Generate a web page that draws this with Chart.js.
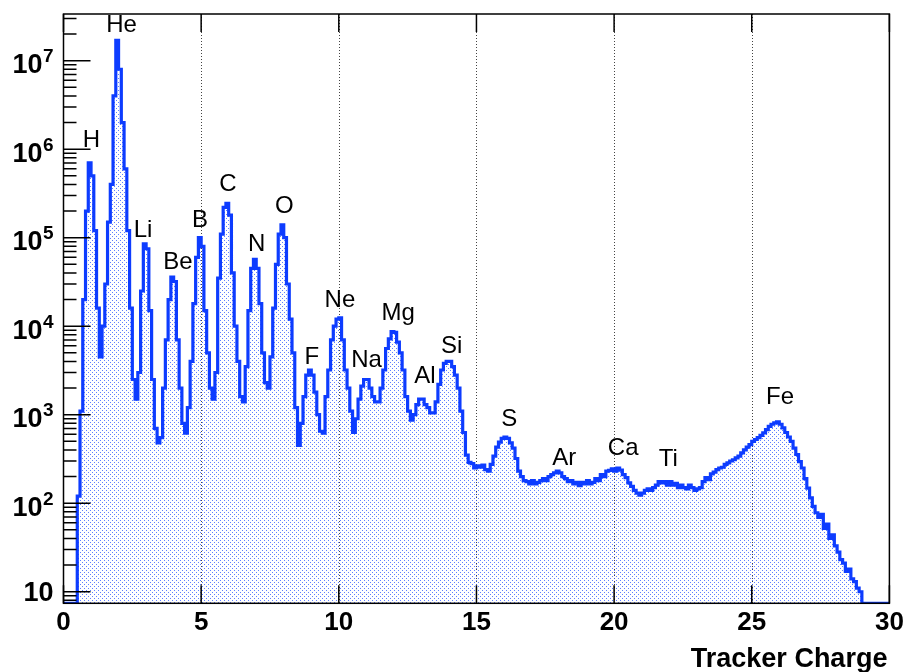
<!DOCTYPE html>
<html>
<head>
<meta charset="utf-8">
<script src="https://cdn.jsdelivr.net/npm/chart.js@4.4.1/dist/chart.umd.min.js"></script>
<style>
  html, body { margin: 0; padding: 0; background: #ffffff; }
  #wrap { width: 904px; height: 672px; }
</style>
</head>
<body>
<div id="wrap"><canvas id="c" width="904" height="672"></canvas></div>
<script>
// Histogram binning and axis ranges
const BIN_WIDTH = 0.1;
const X_RANGE = [0, 30];
const Y_RANGE = [7.4, 3.37e7];
const xTickValues = [0, 5, 10, 15, 20, 25, 30];
const gridValues = [5, 10, 15, 20, 25];
const yDecadeExponents = [1, 2, 3, 4, 5, 6, 7];
const axisTitle = 'Tracker Charge';

// Event counts per 0.1-wide charge bin, charge 0 - 10
const countsLow = [
  0, 0, 0, 0, 0, 120, 1100, 20000, 200000, 700000,
  500000, 120000, 16000, 4500, 10000, 30000, 150000, 400000, 4000000, 17000000,
  8000000, 2000000, 600000, 120000, 16000, 2500, 1500, 3000, 25000, 85000,
  75000, 15000, 2500, 700, 480, 550, 2000, 7000, 20000, 36000,
  32000, 7000, 2000, 800, 620, 1200, 4000, 18000, 60000, 100000,
  80000, 15000, 5000, 2000, 1500, 3000, 35000, 110000, 220000, 245000,
  180000, 40000, 10000, 4000, 1600, 1400, 3500, 15000, 45000, 57000,
  45000, 18000, 5000, 2300, 2000, 4500, 16000, 50000, 110000, 140000,
  100000, 30000, 12000, 5000, 1200, 450, 800, 1600, 2800, 3200,
  2800, 1800, 1000, 650, 620, 1600, 3200, 7000, 10000, 12000
];

// Event counts per bin, charge 10 - 20
const countsMid = [
  12400, 7000, 3200, 2000, 1100, 630, 900, 1500, 2100, 2500,
  2500, 2000, 1600, 1400, 1400, 2000, 3200, 5600, 7200, 8700,
  8500, 6600, 5000, 3200, 1600, 1100, 870, 1000, 1300, 1500,
  1500, 1300, 1200, 1050, 1050, 1400, 2200, 3200, 3800, 4000,
  4000, 3500, 2800, 2000, 1100, 630, 350, 290, 280, 250,
  265, 255, 270, 240, 230, 275, 340, 430, 490, 540,
  560, 540, 480, 420, 320, 230, 200, 180, 175, 165,
  180, 165, 172, 180, 190, 180, 200, 210, 220, 230,
  220, 200, 190, 175, 180, 165, 172, 158, 172, 165,
  180, 165, 172, 190, 180, 210, 200, 230, 235, 245
];

// Event counts per bin, charge 20 - 30
const countsHigh = [
  230, 250, 237, 210, 195, 170, 155, 140, 130, 123,
  130, 140, 145, 140, 150, 160, 175, 170, 175, 160,
  175, 160, 168, 150, 160, 150, 145, 160, 150, 140,
  145, 150, 175, 195, 185, 215, 225, 240, 250, 255,
  275, 285, 300, 310, 325, 340, 370, 400, 430, 460,
  500, 525, 550, 585, 625, 680, 740, 780, 810, 830,
  780, 710, 630, 560, 500, 420, 355, 295, 250, 190,
  148, 115, 92, 78, 69, 75, 52, 58, 40, 44,
  33, 28, 23, 21, 17, 18, 14, 13, 11, 10,
  0, 0, 0, 0, 0, 0, 0, 0, 0, 0
];

// Element annotations: name, charge and count level of the label centre
const elementNames = ['H', 'He', 'Li', 'Be', 'B', 'C', 'N', 'O', 'F', 'Ne',
                      'Na', 'Mg', 'Al', 'Si', 'S', 'Ar', 'Ca', 'Ti', 'Fe'];
const labelCharge = [1.01, 2.11, 2.89, 4.16, 4.96, 5.97, 7.02, 8.02, 9.02, 10.04,
                     11.01, 12.16, 13.13, 14.1, 16.19, 18.19, 20.33, 21.97, 26.03];
const labelLevel = [1.27e6, 2.53e7, 1.22e5, 5.2e4, 1.58e5, 4.05e5, 8.3e4, 2.28e5, 4.5e3, 1.98e4,
                    4.15e3, 1.4e4, 2.7e3, 5.9e3, 890, 320, 420, 310, 1550];

const LINE_BLUE = '#0d3cff';
const FONT = '"Liberation Sans", Arial, Helvetica, sans-serif';

// Step histogram points: one point at each bin's left edge, closing at the upper edge.
// Empty bins sit on the bottom of the axis, as in a ROOT-style histogram.
const counts = countsLow.concat(countsMid, countsHigh);
const points = counts.map((c, i) => ({ x: X_RANGE[0] + i * BIN_WIDTH, y: c > 0 ? c : Y_RANGE[0] }));
points.push({ x: X_RANGE[1], y: Y_RANGE[0] });

const canvas = document.getElementById('c');
const ctx = canvas.getContext('2d');

// Fine dot hatch used for the histogram fill
function dotPattern(target) {
  const tile = document.createElement('canvas');
  tile.width = 4; tile.height = 4;
  const g = tile.getContext('2d');
  g.fillStyle = 'rgba(50, 90, 255, 0.78)';
  g.fillRect(0, 0, 1, 1);
  g.fillRect(2, 2, 1, 1);
  return target.createPattern(tile, 'repeat');
}

const framePlugin = {
  id: 'rootFrame',
  beforeDatasetsDraw(chart) {
    const { ctx: c, chartArea: a, scales: { x } } = chart;
    c.save();
    c.strokeStyle = '#444';
    c.lineWidth = 1;
    c.setLineDash([1, 2]);
    gridValues.forEach(v => {
      const px = Math.round(x.getPixelForValue(v)) + 0.5;
      c.beginPath();
      c.moveTo(px, a.top);
      c.lineTo(px, a.bottom);
      c.stroke();
    });
    c.restore();
  },
  afterDatasetsDraw(chart) {
    const { ctx: c, chartArea: a, scales: { x, y } } = chart;
    c.save();
    c.strokeStyle = '#000';
    c.lineWidth = 1.5;
    c.setLineDash([]);
    c.strokeRect(a.left, a.top, a.right - a.left, a.bottom - a.top);

    // x ticks on bottom and top edges, pointing inwards
    c.beginPath();
    xTickValues.forEach(v => {
      const px = x.getPixelForValue(v);
      c.moveTo(px, a.bottom); c.lineTo(px, a.bottom - 18);
      c.moveTo(px, a.top); c.lineTo(px, a.top + 18);
    });
    c.stroke();

    // y ticks on the left edge: decades long, 2..9 short
    c.beginPath();
    for (let d = 0; d <= 7; d++) {
      for (let m = 1; m <= 9; m++) {
        const v = m * Math.pow(10, d);
        if (v < Y_RANGE[0] || v > Y_RANGE[1]) continue;
        const py = y.getPixelForValue(v);
        const len = m === 1 ? 27 : 13;
        c.moveTo(a.left, py); c.lineTo(a.left + len, py);
      }
    }
    c.stroke();

    // x tick labels
    c.fillStyle = '#000';
    c.font = 'bold 26px ' + FONT;
    c.textAlign = 'center';
    c.textBaseline = 'alphabetic';
    xTickValues.forEach(v => {
      c.fillText(String(v), x.getPixelForValue(v), a.bottom + 27);
    });

    // y tick labels with raised exponents
    const right = a.left - 10;
    yDecadeExponents.forEach(k => {
      const py = y.getPixelForValue(Math.pow(10, k));
      c.textAlign = 'right';
      if (k === 1) {
        c.font = 'bold 27px ' + FONT;
        c.fillText('10', right, py + 9.5);
      } else {
        c.font = 'bold 19px ' + FONT;
        const exp = String(k);
        const ew = c.measureText(exp).width;
        c.fillText(exp, right, py + 1.5);
        c.font = 'bold 27px ' + FONT;
        c.fillText('10', right - ew - 0.5, py + 12.5);
      }
    });

    // axis title
    c.font = 'bold 27px ' + FONT;
    c.textAlign = 'right';
    c.fillText(axisTitle, a.right - 2, a.bottom + 64);

    // element labels
    c.font = '24px ' + FONT;
    c.textAlign = 'center';
    c.textBaseline = 'middle';
    elementNames.forEach((name, i) => {
      c.fillText(name, x.getPixelForValue(labelCharge[i]), y.getPixelForValue(labelLevel[i]));
    });
    c.restore();
  }
};

new Chart(ctx, {
  type: 'line',
  data: {
    datasets: [{
      data: points,
      stepped: true,
      borderColor: LINE_BLUE,
      borderWidth: 3.2,
      borderJoinStyle: 'miter',
      backgroundColor: dotPattern(ctx),
      fill: 'start',
      pointRadius: 0,
      tension: 0
    }]
  },
  options: {
    responsive: false,
    animation: false,
    devicePixelRatio: 1,
    layout: { padding: { left: 63.5, right: 14.6, top: 14, bottom: 68.7 } },
    scales: {
      x: { type: 'linear', min: X_RANGE[0], max: X_RANGE[1], bounds: 'data', display: false },
      y: { type: 'logarithmic', min: Y_RANGE[0], max: Y_RANGE[1], bounds: 'data', display: false }
    },
    plugins: { legend: { display: false }, tooltip: { enabled: false } }
  },
  plugins: [framePlugin]
});
</script>
</body>
</html>
